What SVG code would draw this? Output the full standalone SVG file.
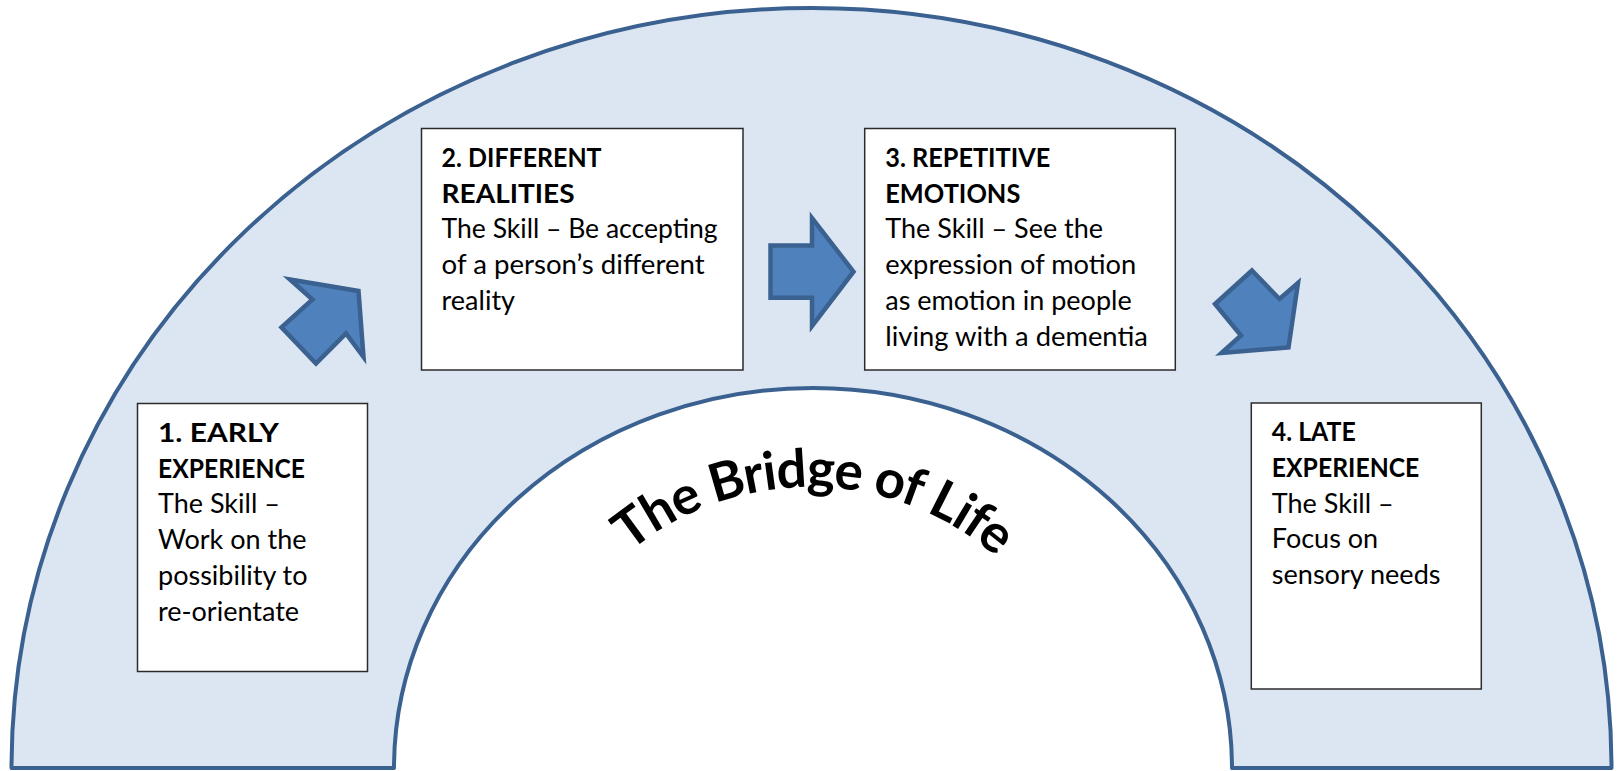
<svg xmlns="http://www.w3.org/2000/svg" xmlns:xlink="http://www.w3.org/1999/xlink" width="1619" height="771" viewBox="0 0 1619 771">
  <style>
    .band { fill: #DCE6F2; stroke: #3A6190; stroke-width: 4; stroke-linejoin: round; }
    .box { fill: #FFFFFF; stroke: #2B2B2B; stroke-width: 1.5; }
    .txt { font-family: Lato, "Open Sans", sans-serif; font-size: 27px; fill: #000000; }
    .hd { font-weight: 700; }
    .arrow { fill: #4F81BD; stroke: #3A6190; stroke-width: 4.5; stroke-linejoin: miter; }
    .title { font-family: Lato, "Open Sans", sans-serif; font-size: 53px; font-weight: 700; fill: #000000; }
  </style>
  <defs>
    <!-- baseline circle for the arched title -->
    <path id="titleArc" d="M 630.0 551.6 A 283 283 0 0 1 999.4 559.7" fill="none"/>
  </defs>

  <rect width="1619" height="771" fill="#FFFFFF"/>

  <!-- the bridge: half-ring (block arc) -->
  <g id="bridge">
    <path class="band" d="M 11.5 768 A 800 760 0 0 1 1611.5 768 L 1232 768 A 419 380 0 0 0 394 768 Z"/>
  </g>

  <!-- stage 1 -->
  <g id="stage1">
    <rect class="box" x="137.5" y="403.5" width="230" height="268"/>
    <text class="txt" x="158" y="441.7">
      <tspan class="hd" x="158" textLength="121" lengthAdjust="spacingAndGlyphs">1. EARLY</tspan>
      <tspan class="hd" x="158" dy="35.8" textLength="147" lengthAdjust="spacingAndGlyphs">EXPERIENCE</tspan>
      <tspan x="158" dy="35.8">The Skill –</tspan>
      <tspan x="158" dy="35.8">Work on the</tspan>
      <tspan x="158" dy="35.8">possibility to</tspan>
      <tspan x="158" dy="35.8">re-orientate</tspan>
    </text>
  </g>

  <!-- stage 2 -->
  <g id="stage2">
    <rect class="box" x="421.5" y="128.5" width="321.5" height="241.5"/>
    <text class="txt" x="441.6" y="166.7">
      <tspan class="hd" x="441.6" textLength="160" lengthAdjust="spacingAndGlyphs">2. DIFFERENT</tspan>
      <tspan class="hd" x="441.6" dy="35.8" textLength="133" lengthAdjust="spacingAndGlyphs">REALITIES</tspan>
      <tspan x="441.6" dy="35.8" textLength="276" lengthAdjust="spacingAndGlyphs">The Skill – Be accepting</tspan>
      <tspan x="441.6" dy="35.8" textLength="263" lengthAdjust="spacingAndGlyphs">of a person’s different</tspan>
      <tspan x="441.6" dy="35.8">reality</tspan>
    </text>
  </g>

  <!-- stage 3 -->
  <g id="stage3">
    <rect class="box" x="864.7" y="128.5" width="310.6" height="241.5"/>
    <text class="txt" x="885.3" y="166.7">
      <tspan class="hd" x="885.3" textLength="165" lengthAdjust="spacingAndGlyphs">3. REPETITIVE</tspan>
      <tspan class="hd" x="885.3" dy="35.8" textLength="135" lengthAdjust="spacingAndGlyphs">EMOTIONS</tspan>
      <tspan x="885.3" dy="35.8">The Skill – See the</tspan>
      <tspan x="885.3" dy="35.8" textLength="251" lengthAdjust="spacingAndGlyphs">expression of motion</tspan>
      <tspan x="885.3" dy="35.8">as emotion in people</tspan>
      <tspan x="885.3" dy="35.8" textLength="262.6" lengthAdjust="spacingAndGlyphs">living with a dementia</tspan>
    </text>
  </g>

  <!-- stage 4 -->
  <g id="stage4">
    <rect class="box" x="1251.3" y="403" width="230" height="286"/>
    <text class="txt" x="1271.8" y="441">
      <tspan class="hd" x="1271.8" textLength="84" lengthAdjust="spacingAndGlyphs">4. LATE</tspan>
      <tspan class="hd" x="1271.8" dy="35.8" textLength="147.5" lengthAdjust="spacingAndGlyphs">EXPERIENCE</tspan>
      <tspan x="1271.8" dy="35.8">The Skill –</tspan>
      <tspan x="1271.8" dy="35.8">Focus on</tspan>
      <tspan x="1271.8" dy="35.8" textLength="168.7" lengthAdjust="spacingAndGlyphs">sensory needs</tspan>
    </text>
  </g>

  <!-- block arrows leading from one stage to the next -->
  <g id="connectors">
    <polygon id="arrow1-2" class="arrow" points="290,279.5 358.5,291 363.5,357 346,333.5 316,363.5 281.5,327.3 312.5,299.5"/>
    <polygon id="arrow2-3" class="arrow" points="770.5,245.5 812,245.5 812,218 853.5,271.7 812,326 812,297.8 770.5,297.8"/>
    <polygon id="arrow3-4" class="arrow" points="1252,270.5 1279.5,299 1298,283 1288.5,347.5 1221.5,353 1241,335.5 1215,304"/>
  </g>

  <!-- arched title -->
  <g id="title">
    <text class="title">
      <textPath xlink:href="#titleArc" href="#titleArc" textLength="398.6" lengthAdjust="spacing">The Bridge of Life</textPath>
    </text>
  </g>
</svg>
